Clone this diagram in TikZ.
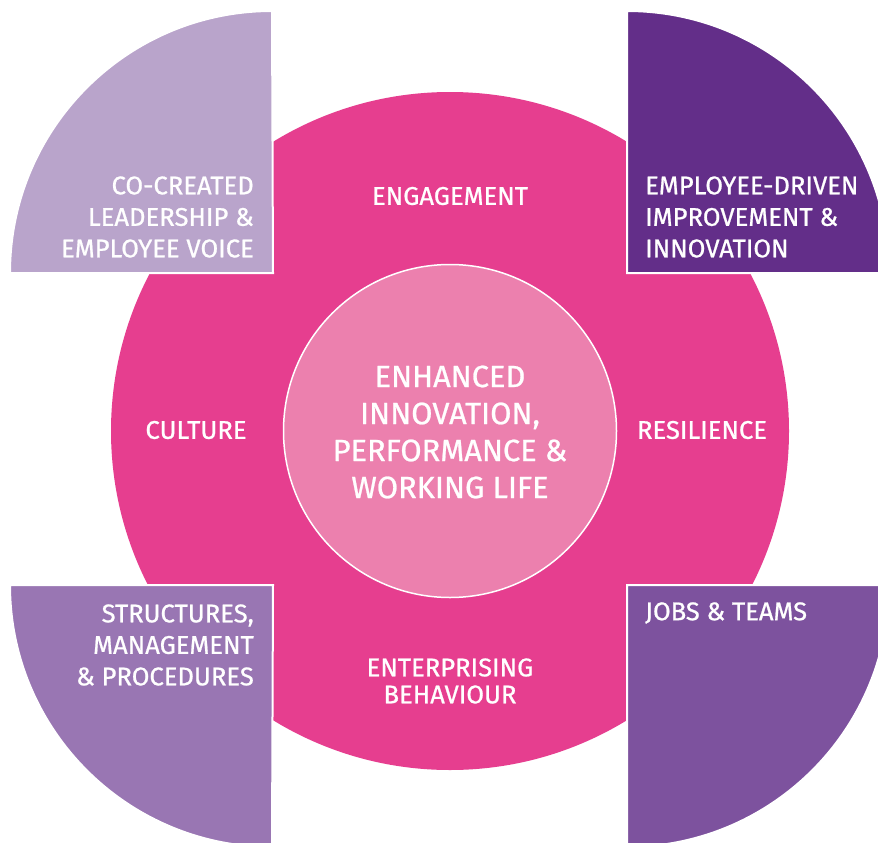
\documentclass[tikz,border=0pt]{standalone}
\usepackage{fontspec}
\setmainfont{Fira Sans}[FakeBold=0.8]
\definecolor{bigpink}{HTML}{E63E8F}
\definecolor{innerpink}{HTML}{EC80AE}
\definecolor{qtl}{HTML}{B9A4CB}
\definecolor{qtr}{HTML}{632E89}
\definecolor{qbl}{HTML}{9976B3}
\definecolor{qbr}{HTML}{7D529E}
\tikzset{
  quarter/.style={draw=white, line width=2pt},
  lbl/.style={text=white, inner sep=0pt, font=\fontsize{25.6}{31.5}\selectfont},
  ctr/.style={text=white, inner sep=0pt, align=center, font=\fontsize{30.8}{37}\selectfont},
}
\begin{document}
\begin{tikzpicture}[x=1pt,y=-1pt]
\useasboundingbox (0,0) rectangle (878,843);
\clip (0,0) rectangle (878,843);
\fill[white] (0,0) rectangle (878,843);
% big circle
\fill[bigpink] (450,431) circle[radius=339];
% quarters
\path[quarter, fill=qtl] (273,273) -- (10,273) arc[start angle=180, end angle=270, radius=262] -- cycle;
\path[quarter, fill=qtr] (627,273) -- (627,11) arc[start angle=270, end angle=360, radius=262] -- cycle;
\path[quarter, fill=qbl] (273,585) -- (10,585) arc[start angle=180, end angle=90, radius=262] -- cycle;
\path[quarter, fill=qbr] (627,585) -- (889,585) arc[start angle=0, end angle=90, radius=262] -- cycle;
% inner circle
\node[circle, draw=white, line width=1.5pt, fill=innerpink, minimum size=333pt, inner sep=0pt] (core) at (450,431) {};
\node[ctr] (coretext) at (450,432) {ENHANCED\\INNOVATION,\\PERFORMANCE \&\\WORKING LIFE};
% ring labels
\node[lbl] (engagement) at (450,196) {ENGAGEMENT};
\node[lbl] (culture) at (196,430) {CULTURE};
\node[lbl] (resilience) at (702,430) {RESILIENCE};
\node[lbl, align=center, font=\fontsize{25.6}{27}\selectfont] (enterprising) at (450,681) {ENTERPRISING\\BEHAVIOUR};
% quarter labels
\node[lbl, align=right, anchor=east] (leadership) at (254,217) {CO-CREATED\\LEADERSHIP \&\\EMPLOYEE VOICE};
\node[lbl, align=left, anchor=west] (improvement) at (645,217) {EMPLOYEE-DRIVEN\\IMPROVEMENT \&\\INNOVATION};
\node[lbl, align=right, anchor=east] (structures) at (254,645) {STRUCTURES,\\MANAGEMENT\\\& PROCEDURES};
\node[lbl, anchor=west] (jobs) at (645,613) {JOBS \& TEAMS};
\end{tikzpicture}
\end{document}
